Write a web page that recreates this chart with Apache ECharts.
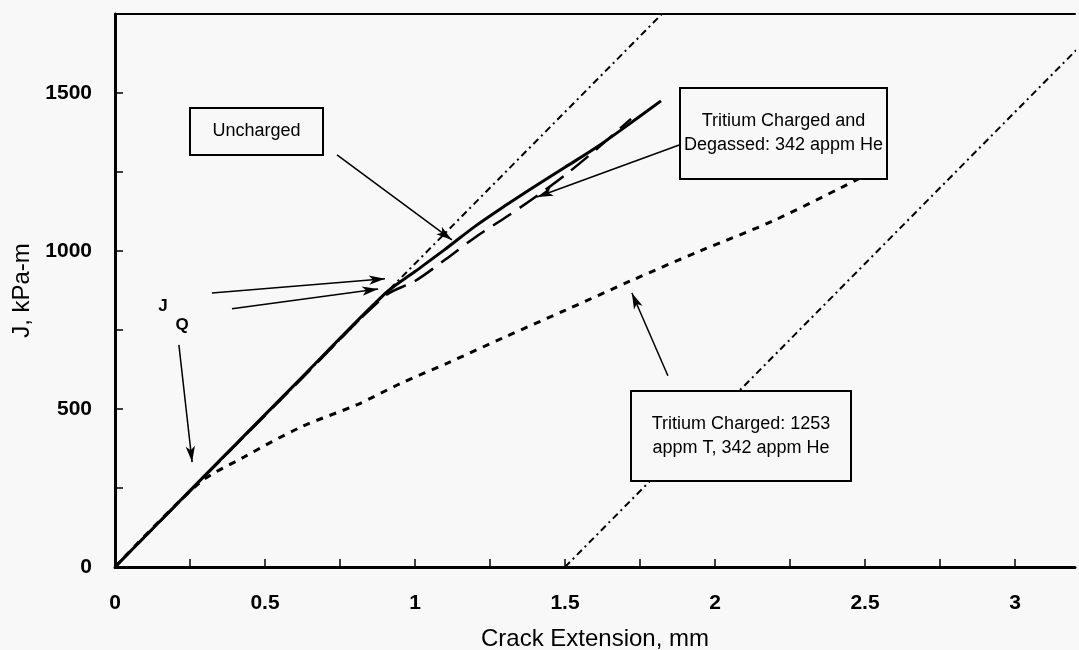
<!DOCTYPE html>
<html><head><meta charset="utf-8">
<script src="https://cdn.jsdelivr.net/npm/echarts@6/dist/echarts.min.js"></script>
<style>html,body{margin:0;padding:0;background:#f8f8f8}#c{width:1079px;height:650px}</style>
</head><body><div id="c"></div>
<script>
// Data (x: crack extension mm, y: J kPa-m)
const uncharged = [[0,0],[0.3,290],[0.6,578],[0.9,865],[1.0,935],[1.1,1005],[1.2,1078],[1.3,1143],[1.4,1205],[1.5,1265],[1.6,1325],[1.7,1392],[1.82,1475]];
const degassed  = [[0,0],[0.3,288],[0.6,575],[0.9,858],[1.0,905],[1.1,972],[1.2,1043],[1.3,1105],[1.4,1170],[1.5,1240],[1.6,1318],[1.72,1418]];
const charged   = [[0,0],[0.28,265],[0.43,348],[0.62,443],[0.81,515],[0.95,580],[1.11,646],[1.3,728],[1.5,812],[1.72,906],[1.95,1000],[2.2,1098],[2.49,1234]];
const bluntingLine = [[0,0],[1.823,1750]];
const offsetLine   = [[1.5,0],[3.323,1750]];
const xTickLabels = ['0','0.5','1','1.5','2','2.5','3'];
const yTickLabels = ['0','500','1000','1500'];
// annotation arrows: [tail, head] in data units
const arrows = [
  [[0.74,1304],[1.123,1035]],
  [[1.883,1336],[1.407,1171]],
  [[1.843,605],[1.723,867]],
  [[0.323,867],[0.9,912]],
  [[0.39,817],[0.877,880]],
  [[0.213,703],[0.257,332]]
];
const boxTexts = ['Uncharged','Tritium Charged and\nDegassed: 342 appm He','Tritium Charged: 1253\nappm T, 342 appm He'];

const chart = echarts.init(document.getElementById('c'), null, {renderer:'canvas'});
const black = '#000';
const font = '"Liberation Sans", Arial, sans-serif';
function box(x,y,w,h,text){
  return {type:'group', children:[
    {type:'rect', z:100, shape:{x:x,y:y,width:w,height:h}, style:{fill:'#f8f8f8',stroke:black,lineWidth:2}},
    {type:'text', z:101, x:x+w/2, y:y+h/2, style:{text:text, fill:black, font:'18px '+font, align:'center', verticalAlign:'middle', lineHeight:24}}
  ]};
}
chart.setOption({
  backgroundColor:'#f8f8f8',
  animation:false,
  grid:{left:115, right:4, top:14, bottom:83, containLabel:false, outerBoundsMode:'none'},
  xAxis:[{
    type:'value', min:0, max:3.2, interval:0.25,
    axisLine:{show:true, lineStyle:{color:black, width:3}},
    axisTick:{show:true, inside:true, length:8, lineStyle:{color:black, width:1.5}},
    axisLabel:{color:black, fontSize:21, fontWeight:'bold', fontFamily:font, margin:26, showMaxLabel:false,
      formatter:function(v){const i=xTickLabels.indexOf(String(+v.toFixed(2))); return i>=0?xTickLabels[i]:'';}},
    splitLine:{show:false},
    name:'Crack Extension, mm', nameLocation:'middle', nameGap:60,
    nameTextStyle:{color:black, fontSize:24, fontFamily:font}
  },{
    type:'value', position:'top', min:0, max:3.2,
    axisLine:{show:true, lineStyle:{color:black, width:2}},
    axisTick:{show:false}, axisLabel:{show:false}, splitLine:{show:false}
  }],
  yAxis:{
    type:'value', min:0, max:1750, interval:250,
    axisLine:{show:true, lineStyle:{color:black, width:3}},
    axisTick:{show:true, inside:true, length:8, lineStyle:{color:black, width:1.5}},
    axisLabel:{color:black, fontSize:21, fontWeight:'bold', fontFamily:font, margin:23, showMaxLabel:false,
      formatter:function(v){const i=yTickLabels.indexOf(String(v)); return i>=0?yTickLabels[i]:'';}},
    splitLine:{show:false},
    name:'J, kPa-m', nameLocation:'middle', nameGap:74, nameRotate:90,
    nameTextStyle:{color:black, fontSize:24, fontFamily:font}
  },
  series:[
    {type:'line', data:uncharged, showSymbol:false, smooth:0.3, lineStyle:{color:black, width:3}},
    {type:'line', data:degassed, showSymbol:false, smooth:0.3, lineStyle:{color:black, width:2.5, type:[22,10]}},
    {type:'line', data:charged, showSymbol:false, smooth:0.3, lineStyle:{color:black, width:3, type:[7,7]}},
    {type:'line', data:bluntingLine, showSymbol:false, lineStyle:{color:black, width:2, type:[7,4,2,4]}},
    {type:'line', data:offsetLine, showSymbol:false, lineStyle:{color:black, width:2, type:[7,4,2,4]}},
    {type:'line', data:[], markLine:{silent:true, symbol:['none','arrow'], symbolSize:[7,16], animation:false,
      label:{show:false}, lineStyle:{color:black, width:1.5, type:'solid'},
      data:arrows.map(a=>[{coord:a[0]},{coord:a[1]}])}}
  ],
  graphic:[
    box(190,108,133,47,boxTexts[0]),
    box(680,88,207,91,boxTexts[1]),
    box(631,391,220,90,boxTexts[2]),
    {type:'text', z:101, x:163, y:306, style:{text:'J', fill:black, font:'bold 17px '+font, align:'center', verticalAlign:'middle'}},
    {type:'text', z:101, x:182, y:325, style:{text:'Q', fill:black, font:'bold 17px '+font, align:'center', verticalAlign:'middle'}}
  ]
});
</script></body></html>
